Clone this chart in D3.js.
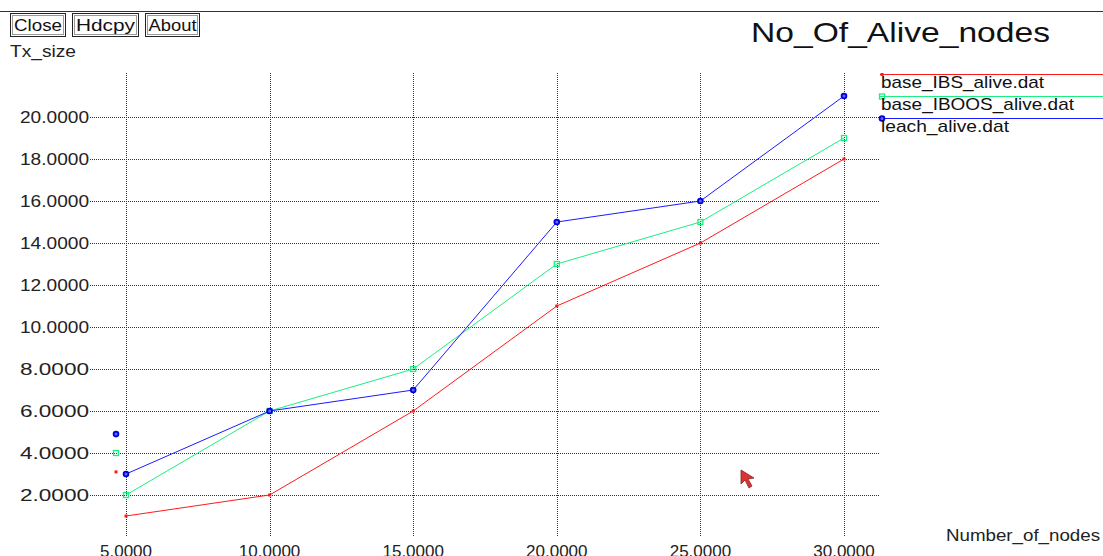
<!DOCTYPE html>
<html>
<head>
<meta charset="utf-8">
<script src="https://cdn.jsdelivr.net/npm/d3@7"></script>
<style>
  body { margin: 0; background: #fff; }
  svg { display: block; font-family: "Liberation Sans", Arial, sans-serif; }
</style>
</head>
<body>
<svg width="1103" height="556"></svg>
<script>
// data
var xValues   = [5, 10, 15, 20, 25, 30];
var ibsAlive   = [1, 2, 6, 11, 14, 18];
var iboosAlive = [2, 6, 8, 13, 15, 19];
var leachAlive = [3, 6, 7, 15, 16, 21];
var seriesNames = ["base_IBS_alive.dat", "base_IBOOS_alive.dat", "leach_alive.dat"];
var yTicks = [2, 4, 6, 8, 10, 12, 14, 16, 18, 20];
var xTicks = [5, 10, 15, 20, 25, 30];
var strayMarks = [3.1, 4.0, 4.9];   // odd little markers left of the plot
var buttons = ["Close", "Hdcpy", "About"];

var svg = d3.select("svg");

var x = d3.scaleLinear().domain([5, 30]).range([126, 844]),
    y = d3.scaleLinear().domain([0, 21]).range([537, 96]);

var colors = ["#ff1a1a", "#1aef80", "#1a1aff"];
var series = [ibsAlive, iboosAlive, leachAlive].map(function(vals, i) {
  return { name: seriesNames[i], color: colors[i],
           values: vals.map(function(v, j) { return { x: xValues[j], y: v }; }) };
});

// top rule and buttons
svg.append("line")
   .attr("x1", 0).attr("x2", 1103).attr("y1", 11.5).attr("y2", 11.5)
   .attr("stroke", "#333").attr("stroke-width", 1);

var bw = [56, 67, 55], tw = [48, 59, 48], bx = 10;
buttons.forEach(function(b, i) {
  var g = svg.append("g").attr("transform", "translate(" + bx + ",13)");
  g.append("rect").attr("x", 0.5).attr("y", 0.5).attr("width", bw[i] - 1).attr("height", 23)
   .attr("fill", "#fff").attr("stroke", "#222");
  g.append("rect").attr("x", 2.5).attr("y", 2.5).attr("width", bw[i] - 5).attr("height", 19)
   .attr("fill", "none").attr("stroke", "#999");
  g.append("text").attr("x", bw[i] / 2).attr("y", 17.5).attr("text-anchor", "middle")
   .attr("font-size", 17).attr("textLength", tw[i]).attr("lengthAdjust", "spacingAndGlyphs")
   .attr("fill", "#111").text(b);
  bx += bw[i] + 6;
});

svg.append("text").attr("x", 751).attr("y", 42)
   .attr("font-size", 28).attr("textLength", 299).attr("lengthAdjust", "spacingAndGlyphs")
   .attr("fill", "#111").text("No_Of_Alive_nodes");

svg.append("text").attr("x", 10).attr("y", 57)
   .attr("font-size", 16).attr("textLength", 66).attr("lengthAdjust", "spacingAndGlyphs")
   .attr("fill", "#222").text("Tx_size");

svg.append("text").attr("x", 946).attr("y", 541)
   .attr("font-size", 16).attr("textLength", 154).attr("lengthAdjust", "spacingAndGlyphs")
   .attr("fill", "#222").text("Number_of_nodes");

// grid
var grid = svg.append("g").attr("stroke", "#333").attr("stroke-dasharray", "1,1");
grid.selectAll(".gx").data(xTicks).enter().append("line")
    .attr("x1", function(d) { return Math.round(x(d)) + 0.5; })
    .attr("x2", function(d) { return Math.round(x(d)) + 0.5; })
    .attr("y1", 73).attr("y2", 536);
grid.selectAll(".gy").data(yTicks).enter().append("line")
    .attr("x1", 90).attr("x2", 880)
    .attr("y1", function(d) { return Math.round(y(d)) + 0.5; })
    .attr("y2", function(d) { return Math.round(y(d)) + 0.5; });

// tick labels
svg.append("g").selectAll("text").data(yTicks).enter().append("text")
   .attr("x", 89).attr("y", function(d) { return y(d) + 6; })
   .attr("text-anchor", "end").attr("font-size", 17)
   .attr("textLength", 69).attr("lengthAdjust", "spacingAndGlyphs")
   .attr("fill", "#222").text(function(d) { return d3.format(".4f")(d); });

svg.append("g").selectAll("text").data(xTicks).enter().append("text")
   .attr("x", function(d) { return x(d); }).attr("y", 557)
   .attr("text-anchor", "middle").attr("font-size", 17)
   .attr("fill", "#222").text(function(d) { return d3.format(".4f")(d); });

// lines
var line = d3.line().x(function(d) { return x(d.x); }).y(function(d) { return y(d.y); });

function marker(sel, i) {
  if (i === 0) {
    sel.append("rect").attr("x", -1.5).attr("y", -1.5).attr("width", 3).attr("height", 3)
       .attr("fill", colors[0]);
  } else if (i === 1) {
    sel.append("rect").attr("x", -2.5).attr("y", -2.5).attr("width", 5).attr("height", 5)
       .attr("fill", "none").attr("stroke", colors[1]).attr("stroke-width", 1.3);
  } else {
    sel.append("circle").attr("r", 2.4)
       .attr("fill", "#6666ff").attr("stroke", "#0000dd").attr("stroke-width", 1.8);
  }
}

series.forEach(function(s, i) {
  svg.append("path").datum(s.values)
     .attr("d", line).attr("fill", "none")
     .attr("stroke", s.color).attr("stroke-width", 1);
  svg.append("g").selectAll("g").data(s.values).enter().append("g")
     .attr("transform", function(d) { return "translate(" + x(d.x) + "," + y(d.y) + ")"; })
     .each(function() { marker(d3.select(this), i); });
});

// stray markers left of first grid column
strayMarks.forEach(function(v, i) {
  var g = svg.append("g").attr("transform", "translate(" + (x(5) - 10) + "," + y(v) + ")");
  marker(g, i);
});

// legend
var legendW = [163, 193, 128];
series.forEach(function(s, i) {
  var ly = 74 + i * 22;
  svg.append("line").attr("x1", 880).attr("x2", 1103)
     .attr("y1", ly + 0.5).attr("y2", ly + 0.5)
     .attr("stroke", s.color).attr("stroke-width", 1);
  var g = svg.append("g").attr("transform", "translate(882," + (ly + 0.5) + ")");
  marker(g, i);
  svg.append("text").attr("x", 881).attr("y", ly + 14)
     .attr("font-size", 17).attr("textLength", legendW[i]).attr("lengthAdjust", "spacingAndGlyphs")
     .attr("fill", "#111").text(s.name);
});

// mouse pointer seen in the screenshot
svg.append("path")
   .attr("d", "M741,470 L741,484 L745,480 L749,488 L752,486 L748,479 L754,478 Z")
   .attr("fill", "#d33").attr("stroke", "#822").attr("stroke-width", 0.8);
</script>
</body>
</html>
